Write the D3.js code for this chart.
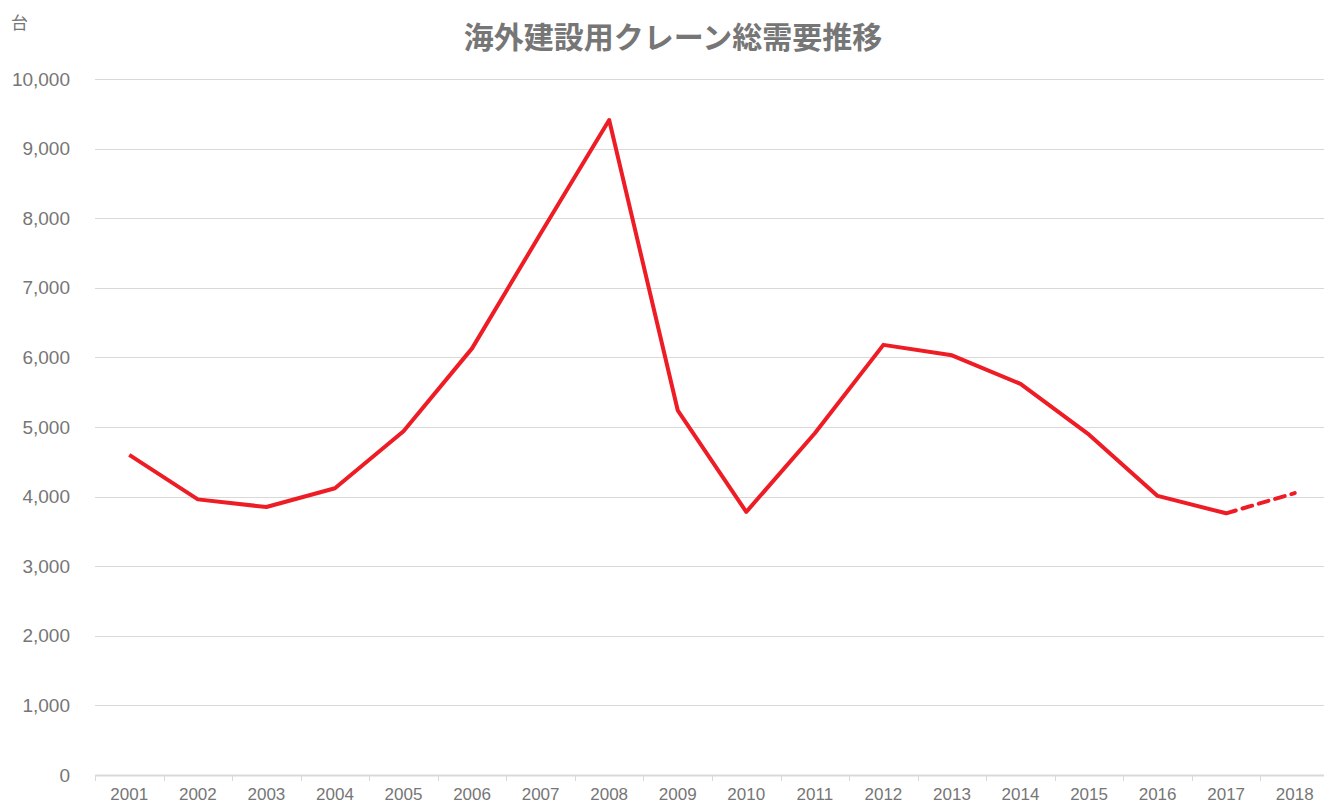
<!DOCTYPE html>
<html>
<head>
<meta charset="utf-8">
<script src="https://cdn.jsdelivr.net/npm/d3@7"></script>
<style>
body { margin: 0; background: #fff; }
text { font-family: "Liberation Sans", Arial, "Noto Sans CJK JP", sans-serif; fill: #767676; }
.chartTitle { font-family: "Noto Sans CJK JP", sans-serif; font-weight: bold; fill: #767676; }
.grid line { stroke: #d9d9d9; stroke-width: 1; }
</style>
</head>
<body>
<script>
//chart data
var years = ["2001","2002","2003","2004","2005","2006","2007","2008","2009","2010","2011","2012","2013","2014","2015","2016","2017","2018"];
var demand = [4600, 3960, 3850, 4120, 4940, 6130, 7780, 9410, 5240, 3780, 4910, 6180, 6030, 5620, 4890, 4010, 3760, 4050];
var yTicks = [0, 1000, 2000, 3000, 4000, 5000, 6000, 7000, 8000, 9000, 10000];
var forecastFrom = "2017";

(function(){

var width = 1324,
    height = 805,
    plotLeft = 95,
    plotRight = 1329,
    plotTop = 79,
    plotBottom = 775;

var svg = d3.select("body")
    .append("svg")
    .attr("width", width)
    .attr("height", height);

var x = d3.scaleBand()
    .domain(years)
    .range([plotLeft, plotRight]);

var y = d3.scaleLinear()
    .domain([0, 10000])
    .range([plotBottom, plotTop]);

//horizontal gridlines
svg.append("g")
    .attr("class", "grid")
    .selectAll("line")
    .data(yTicks.slice(1))
    .enter()
    .append("line")
    .attr("x1", plotLeft)
    .attr("x2", plotRight)
    .attr("y1", function(d){ return Math.round(y(d)) + 0.5; })
    .attr("y2", function(d){ return Math.round(y(d)) + 0.5; });

//y axis labels
var yAxis = d3.axisLeft(y)
    .tickValues(yTicks)
    .tickSize(0)
    .tickPadding(25)
    .tickFormat(d3.format(","));

svg.append("g")
    .attr("transform", "translate(" + plotLeft + ",0)")
    .call(yAxis)
    .call(function(g){ g.select(".domain").remove(); })
    .selectAll("text")
    .style("font-size", "19px")
    .style("fill", "#767676");

//x axis
var xAxis = d3.axisBottom(x).tickSize(0).tickPadding(13);
var gx = svg.append("g")
    .attr("transform", "translate(0," + plotBottom + ")")
    .call(xAxis);
gx.select(".domain").attr("stroke", "#d9d9d9").attr("stroke-width", 2);
gx.selectAll("text").style("font-size", "17px").style("fill", "#767676");

//category boundary ticks
gx.selectAll(".bound")
    .data(years.concat(["end"]))
    .enter()
    .append("line")
    .attr("class", "bound")
    .attr("x1", function(d, i){ return Math.round(plotLeft + i * x.step()) + 0.5; })
    .attr("x2", function(d, i){ return Math.round(plotLeft + i * x.step()) + 0.5; })
    .attr("y1", 0)
    .attr("y2", 6)
    .attr("stroke", "#d9d9d9")
    .attr("stroke-width", 1);

var points = years.map(function(d, i){ return {year: d, value: demand[i]}; });
var split = years.indexOf(forecastFrom);

var line = d3.line()
    .x(function(d){ return x(d.year) + x.bandwidth() / 2; })
    .y(function(d){ return y(d.value); });

//actual demand
svg.append("path")
    .datum(points.slice(0, split + 1))
    .attr("d", line)
    .attr("fill", "none")
    .attr("stroke", "#ee1c25")
    .attr("stroke-width", 4)
    .attr("stroke-linejoin", "round");

//forecast (dashed)
svg.append("path")
    .datum(points.slice(split))
    .attr("d", line)
    .attr("fill", "none")
    .attr("stroke", "#ee1c25")
    .attr("stroke-width", 4)
    .attr("stroke-dasharray", "10,7")
    .attr("stroke-linecap", "round");

//title
svg.append("text")
    .attr("class", "chartTitle")
    .attr("x", 673)
    .attr("y", 48)
    .attr("text-anchor", "middle")
    .style("font-size", "30px")
    .text("海外建設用クレーン総需要推移");

//unit label
svg.append("text")
    .attr("x", 11)
    .attr("y", 29)
    .style("font-family", "'Noto Sans CJK JP', sans-serif")
    .style("font-size", "17px")
    .text("台");

})();
</script>
</body>
</html>
